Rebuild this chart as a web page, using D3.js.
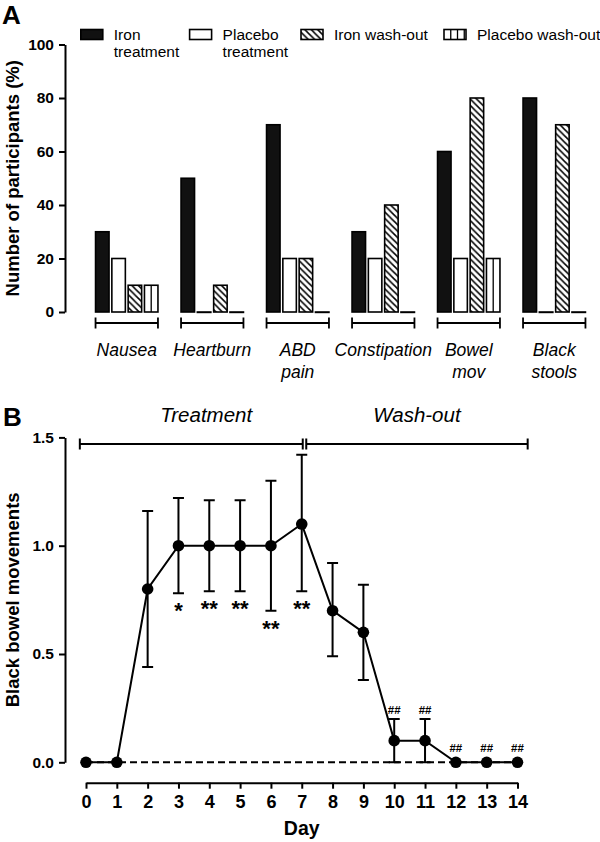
<!DOCTYPE html>
<html><head><meta charset="utf-8">
<script src="https://cdn.jsdelivr.net/npm/d3@7"></script>
<style>
body{margin:0;background:#fff}
svg{display:block}
text{font-family:"Liberation Sans",Arial,Helvetica,sans-serif;fill:#000}
</style>
</head><body>
<svg id="c" width="600" height="842"></svg>
<script>
// ---------- DATA ----------
const categories = ["Nausea", "Heartburn", "ABD pain", "Constipation", "Bowel mov", "Black stools"];
const seriesNames = ["Iron treatment", "Placebo treatment", "Iron wash-out", "Placebo wash-out"];
const legendLabels = [["Iron", "treatment"], ["Placebo", "treatment"], ["Iron wash-out"], ["Placebo wash-out"]];
const ironTreatment    = [30, 50, 70, 30, 60, 80];
const placeboTreatment = [20,  0, 20, 20, 20,  0];
const ironWashout      = [10, 10, 20, 40, 80, 70];
const placeboWashout   = [10,  0,  0,  0, 20,  0];
const percentTicks = [0, 20, 40, 60, 80, 100];

const days     = [0, 1, 2, 3, 4, 5, 6, 7, 8, 9, 10, 11, 12, 13, 14];
const meanBBM  = [0, 0, 0.80, 1.00, 1.00, 1.00, 1.00, 1.10, 0.70, 0.60, 0.10, 0.10, 0, 0, 0];
const upperBBM = [0, 0, 1.16, 1.22, 1.21, 1.21, 1.30, 1.42, 0.92, 0.82, 0.20, 0.20, 0, 0, 0];
const lowerBBM = [0, 0, 0.44, 0.78, 0.79, 0.79, 0.70, 0.79, 0.49, 0.38, 0.00, 0.00, 0, 0, 0];
const starMarks = ["", "", "", "*", "**", "**", "**", "**", "", "", "", "", "", "", ""];
const hashMarks = ["", "", "", "", "", "", "", "", "", "", "##", "##", "##", "##", "##"];
const bbmTicks = [0, 0.5, 1.0, 1.5];
const phases = ["Treatment", "Wash-out"];

// ---------- SETUP ----------
const svg = d3.select("#c");
const defs = svg.append("defs");
const hs = 6.4;
const hp = defs.append("pattern").attr("id", "hatch").attr("patternUnits", "userSpaceOnUse")
  .attr("width", hs).attr("height", hs);
hp.append("rect").attr("width", hs).attr("height", hs).attr("fill", "#fff");
hp.append("path").attr("d", `M-1,-1L${hs + 1},${hs + 1}M-1,${hs - 1}L1,${hs + 1}M${hs - 1},-1L${hs + 1},1`)
  .attr("stroke", "#000").attr("stroke-width", 1.5);

const seriesValues = [ironTreatment, placeboTreatment, ironWashout, placeboWashout];
const fills = ["#111", "#fff", "url(#hatch)", "#fff"];
const vStep = 6.75;

function drawBarShape(g, x, y, w, h, j) {
  g.append("rect").attr("x", x).attr("y", y).attr("width", w).attr("height", Math.max(h, 0.4))
    .attr("fill", fills[j]).attr("stroke", "#000").attr("stroke-width", 1.6);
  if (j === 3 && h > 1) {
    for (let k = vStep; k < w - 0.5; k += vStep) {
      g.append("line").attr("x1", x + k).attr("x2", x + k).attr("y1", y).attr("y2", y + h)
        .attr("stroke", "#000").attr("stroke-width", 1.3);
    }
  }
}

// ---------- PANEL A ----------
const yA = d3.scaleLinear().domain([0, 100]).range([312, 44.5]);
const x0 = d3.scaleBand().domain(categories).range([84, 597]).paddingInner(0.27).paddingOuter(0.135);
const x1 = d3.scaleBand().domain(seriesNames).range([0, x0.bandwidth()]).paddingInner(0.172);

svg.append("text").attr("x", 2).attr("y", 24).attr("font-size", 26).attr("font-weight", "bold").text("A");

const gA = svg.append("g");
categories.forEach((c, i) => {
  seriesNames.forEach((s, j) => {
    const v = seriesValues[j][i];
    const x = x0(c) + x1(s);
    drawBarShape(gA, x, yA(v), x1.bandwidth(), yA(0) - yA(v), j);
  });
  const bx0 = x0(c), bx1 = x0(c) + x0.bandwidth(), by = 323;
  gA.append("path").attr("d", `M${bx0},${by - 5.5}V${by + 5.5}M${bx0},${by}H${bx1}M${bx1},${by - 5.5}V${by + 5.5}`)
    .attr("stroke", "#000").attr("stroke-width", 1.8).attr("fill", "none");
  const lines = c.split(" ");
  const t = gA.append("text").attr("text-anchor", "middle").attr("font-size", 17.5).attr("font-style", "italic");
  lines.forEach((ln, k) => t.append("tspan").attr("x", x0(c) + x0.bandwidth() / 2).attr("y", 356 + k * 21.5).text(ln));
});

const axA = svg.append("g").attr("transform", "translate(65,0)")
  .call(d3.axisLeft(yA).tickValues(percentTicks).tickSize(6).tickSizeOuter(0).tickPadding(5));
axA.selectAll("path,line").attr("stroke", "#000").attr("stroke-width", 2);
axA.selectAll("text").attr("font-size", 15.5).attr("font-weight", "bold").attr("font-family", "Liberation Sans, Arial, sans-serif").attr("fill", "#000");

svg.append("text").attr("transform", `translate(19,${(yA(0) + yA(100)) / 2}) rotate(-90)`)
  .attr("text-anchor", "middle").attr("font-size", 18.5).attr("font-weight", "bold")
  .text("Number of participants (%)");

// legend
const legendX = [80.8, 189.6, 301, 444];
legendLabels.forEach((lab, j) => {
  const g = svg.append("g");
  drawBarShape(g, legendX[j], 29.5, 22, 10, j);
  const t = g.append("text").attr("font-size", 15.5);
  lab.forEach((ln, k) => t.append("tspan").attr("x", legendX[j] + 33).attr("y", 40 + k * 16.7).text(ln));
});

// ---------- PANEL B ----------
const xB = d3.scaleLinear().domain([0, 14]).range([86, 517.5]);
const yB = d3.scaleLinear().domain([0, 1.5]).range([762.3, 437.4]);

svg.append("text").attr("x", 3).attr("y", 426).attr("font-size", 26).attr("font-weight", "bold").text("B");

const bY = 444;
const segs = [[xB(-0.2), xB(7) + 1], [xB(7) + 4.5, xB(14.33)]];
segs.forEach(([a, b]) => {
  svg.append("path").attr("d", `M${a},${bY - 5.5}V${bY + 5.5}M${a},${bY}H${b}M${b},${bY - 5.5}V${bY + 5.5}`)
    .attr("stroke", "#000").attr("stroke-width", 2).attr("fill", "none");
});
svg.append("text").attr("x", xB(3.9)).attr("y", 422).attr("text-anchor", "middle")
  .attr("font-size", 20.5).attr("font-style", "italic").text(phases[0]);
svg.append("text").attr("x", (segs[1][0] + segs[1][1]) / 2).attr("y", 422).attr("text-anchor", "middle")
  .attr("font-size", 20.5).attr("font-style", "italic").text(phases[1]);

const axBy = svg.append("g").attr("transform", "translate(65,0)")
  .call(d3.axisLeft(yB).tickValues(bbmTicks).tickFormat(d3.format(".1f")).tickSize(6).tickSizeOuter(0).tickPadding(5));
axBy.selectAll("path,line").attr("stroke", "#000").attr("stroke-width", 2);
axBy.selectAll("text").attr("font-size", 15.5).attr("font-weight", "bold").attr("font-family", "Liberation Sans, Arial, sans-serif").attr("fill", "#000");

const axBx = svg.append("g").attr("transform", "translate(0,782.7)")
  .call(d3.axisBottom(xB).tickValues(days).tickFormat(d3.format("d")).tickSize(6).tickSizeOuter(0).tickPadding(7));
axBx.selectAll("path,line").attr("stroke", "#000").attr("stroke-width", 2);
axBx.selectAll("text").attr("font-size", 18).attr("font-weight", "bold").attr("font-family", "Liberation Sans, Arial, sans-serif").attr("fill", "#000");

svg.append("text").attr("x", xB(7)).attr("y", 835).attr("text-anchor", "middle")
  .attr("font-size", 19.5).attr("font-weight", "bold").text("Day");

svg.append("text").attr("transform", `translate(19,${(yB(0) + yB(1.5)) / 2}) rotate(-90)`)
  .attr("text-anchor", "middle").attr("font-size", 18.5).attr("font-weight", "bold")
  .text("Black bowel movements");

svg.append("path").datum(days)
  .attr("d", d3.line().x(d => xB(d)).y(() => yB(0)))
  .attr("stroke", "#000").attr("stroke-width", 2).attr("stroke-dasharray", "7,4").attr("fill", "none");

const eb = svg.append("g").attr("stroke", "#000").attr("stroke-width", 2).attr("fill", "none");
days.forEach((d, i) => {
  if (upperBBM[i] === lowerBBM[i]) return;
  const x = xB(d);
  eb.append("path").attr("d",
    `M${x},${yB(lowerBBM[i])}V${yB(upperBBM[i])}M${x - 5.5},${yB(upperBBM[i])}H${x + 5.5}M${x - 5.5},${yB(lowerBBM[i])}H${x + 5.5}`);
});

svg.append("path").datum(days)
  .attr("d", d3.line().x(d => xB(d)).y((d, i) => yB(meanBBM[i])))
  .attr("stroke", "#000").attr("stroke-width", 2).attr("fill", "none");

svg.append("g").selectAll("circle").data(days).join("circle")
  .attr("cx", d => xB(d)).attr("cy", (d, i) => yB(meanBBM[i])).attr("r", 5.8).attr("fill", "#000");

days.forEach((d, i) => {
  if (starMarks[i]) {
    svg.append("text").attr("x", xB(d)).attr("y", yB(lowerBBM[i]) + 25).attr("text-anchor", "middle")
      .attr("font-size", 22).attr("font-weight", "bold").text(starMarks[i]);
  }
  if (hashMarks[i]) {
    const cy = upperBBM[i] > meanBBM[i] ? yB(upperBBM[i]) - 9.4 : yB(meanBBM[i]) - 14.6;
    svg.append("text").attr("x", xB(d)).attr("y", cy + 4).attr("text-anchor", "middle")
      .attr("font-size", 11.5).attr("font-weight", "bold").text(hashMarks[i]);
  }
});
</script>
</body></html>
